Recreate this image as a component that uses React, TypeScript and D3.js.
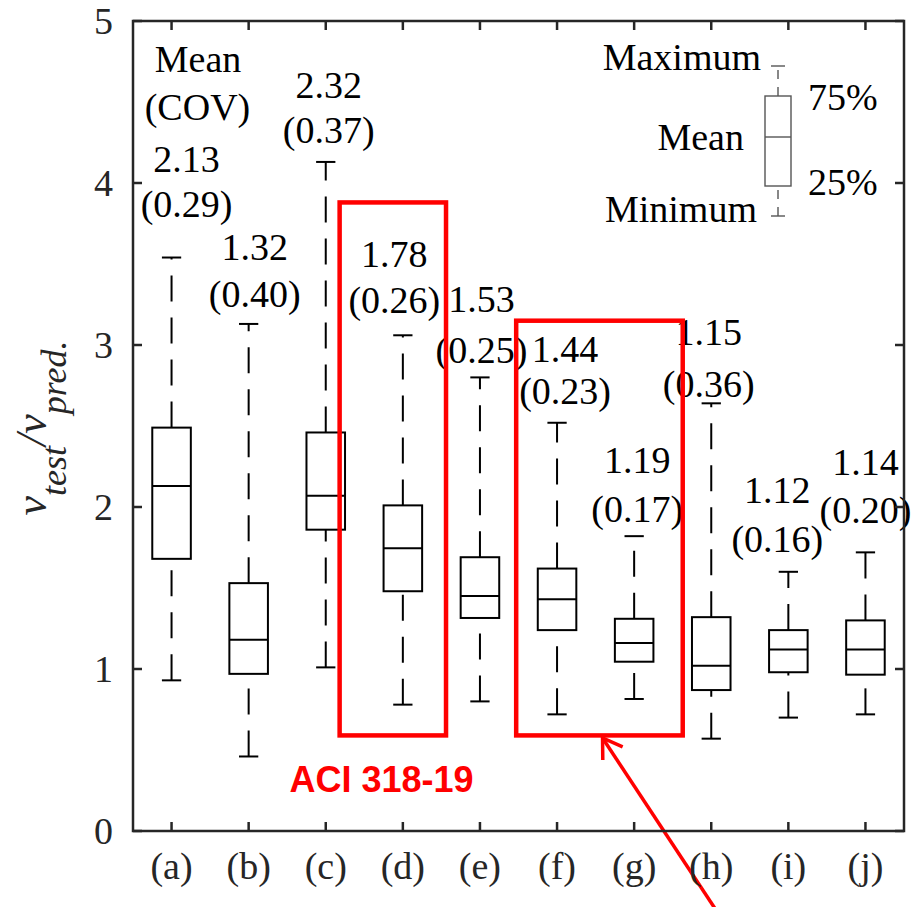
import React from 'react';
import * as d3 from 'd3';

// box plot values (v_test / v_pred.)
const categories = ['(a)', '(b)', '(c)', '(d)', '(e)', '(f)', '(g)', '(h)', '(i)', '(j)'];
const minimums = [0.93, 0.46, 1.01, 0.78, 0.8, 0.72, 0.815, 0.57, 0.7, 0.72];
const q1s = [1.68, 0.97, 1.86, 1.48, 1.315, 1.24, 1.045, 0.87, 0.98, 0.965];
const centres = [2.13, 1.18, 2.07, 1.745, 1.45, 1.43, 1.16, 1.02, 1.12, 1.12];
const q3s = [2.49, 1.53, 2.46, 2.01, 1.69, 1.62, 1.31, 1.32, 1.24, 1.3];
const maximums = [3.54, 3.13, 4.13, 3.06, 2.8, 2.52, 1.82, 2.64, 1.6, 1.72];
const meanLabels = ['2.13', '1.32', '2.32', '1.78', '1.53', '1.44', '1.19', '1.15', '1.12', '1.14'];
const covLabels = ['(0.29)', '(0.40)', '(0.37)', '(0.26)', '(0.25)', '(0.23)', '(0.17)', '(0.36)', '(0.16)', '(0.20)'];
const yTicks = [0, 1, 2, 3, 4, 5];

// label placement: [dx px from box centre, mean baseline y, cov baseline y]
const labelLayout = [
  [15, 172, 217], [6, 260, 307], [3, 98, 143], [-8.5, 267, 313], [1.5, 312, 363],
  [8, 362, 404], [3, 473, 522], [-2.5, 345, 397], [-11, 503, 552], [0, 475, 523],
];

const W = 912;
const H = 907;
const left = 133, right = 904, top = 21, bottom = 831;
const serif = '"Liberation Serif", "Times New Roman", serif';
const axisColor = '#262626';

const App = () => {
  const x = d3.scaleLinear().domain([0.5, 10.5]).range([left, right]);
  const y = d3.scaleLinear().domain([0, 5]).range([bottom, top]);
  const bw = x(1.25) - x(1);
  const cw = x(1.125) - x(1);

  // arrow geometry (data units)
  const tip: [number, number] = [x(6.59), y(0.574)];
  const tail: [number, number] = [x(8.12), y(-0.53)];
  const ang = Math.atan2(tail[1] - tip[1], tail[0] - tip[0]);
  const headLen = 22;
  const arm = (a: number) => [tip[0] + headLen * Math.cos(a), tip[1] + headLen * Math.sin(a)];
  const a1 = arm(ang - Math.PI / 5.5);
  const a2 = arm(ang + Math.PI / 5.5);

  const redBoxes = [
    { x0: 3.18, x1: 4.56, y0: 0.59, y1: 3.88 },
    { x0: 5.47, x1: 7.63, y0: 0.59, y1: 3.15 },
  ];

  return (
    <svg width={W} height={H} style={{ position: 'absolute', left: 0, top: 0, background: '#fff' }}
      fontFamily={serif}>
      <rect width={W} height={H} fill="#fff" />

      {/* boxes */}
      {categories.map((c, i) => {
        const cx = x(i + 1);
        return (
          <g key={c} stroke="#000" strokeWidth={2} fill="none">
            <line x1={cx} x2={cx} y1={y(minimums[i])} y2={y(q1s[i])} strokeDasharray="26 16" />
            <line x1={cx} x2={cx} y1={y(q3s[i])} y2={y(maximums[i])} strokeDasharray="26 16" />
            <line x1={cx - cw} x2={cx + cw} y1={y(minimums[i])} y2={y(minimums[i])} />
            <line x1={cx - cw} x2={cx + cw} y1={y(maximums[i])} y2={y(maximums[i])} />
            <rect x={cx - bw} y={y(q3s[i])} width={bw * 2} height={y(q1s[i]) - y(q3s[i])} />
            <line x1={cx - bw} x2={cx + bw} y1={y(centres[i])} y2={y(centres[i])} />
          </g>
        );
      })}

      {/* mean / cov labels */}
      <g fontSize={38} textAnchor="middle" fill="#000">
        <text x={198} y={72}>Mean</text>
        <text x={197.5} y={120}>(COV)</text>
        {categories.map((c, i) => (
          <g key={c}>
            <text x={x(i + 1) + labelLayout[i][0]} y={labelLayout[i][1]}>{meanLabels[i]}</text>
            <text x={x(i + 1) + labelLayout[i][0]} y={labelLayout[i][2]}>{covLabels[i]}</text>
          </g>
        ))}
      </g>

      {/* red highlight boxes */}
      {redBoxes.map((b, i) => (
        <rect key={i} x={x(b.x0)} y={y(b.y1)} width={x(b.x1) - x(b.x0)} height={y(b.y0) - y(b.y1)}
          fill="none" stroke="#ff0000" strokeWidth={4.5} />
      ))}
      <text x={x(2.53)} y={y(0.24)} fill="#ff0000" fontSize={36} fontWeight="bold"
        fontFamily='"Liberation Sans", Arial, sans-serif'>ACI 318-19</text>
      <g stroke="#ff0000" strokeWidth={3.5} fill="none">
        <line x1={tip[0]} y1={tip[1]} x2={tail[0]} y2={tail[1]} />
        <polyline points={`${a1[0]},${a1[1]} ${tip[0]},${tip[1]} ${a2[0]},${a2[1]}`} />
      </g>

      {/* legend */}
      <g stroke="#555" strokeWidth={1.4} fill="none">
        <line x1={778} x2={778} y1={96} y2={66} strokeDasharray="9 8" />
        <line x1={778} x2={778} y1={216} y2={186} strokeDasharray="9 8" />
        <line x1={771} x2={785} y1={66} y2={66} />
        <line x1={771} x2={785} y1={216} y2={216} />
        <rect x={765} y={96} width={26} height={90} />
        <line x1={765} x2={791} y1={137} y2={137} />
      </g>
      <g fontSize={38} fill="#000">
        <text x={761} y={70} textAnchor="end">Maximum</text>
        <text x={808} y={110}>75%</text>
        <text x={744} y={150} textAnchor="end">Mean</text>
        <text x={808} y={195}>25%</text>
        <text x={757} y={222} textAnchor="end">Minimum</text>
      </g>

      {/* axes frame and ticks */}
      <g stroke={axisColor} strokeWidth={2.5} fill="none">
        <rect x={left} y={top} width={right - left} height={bottom - top} />
        {yTicks.map(t => (
          <g key={t}>
            <line x1={left} x2={left + 9} y1={y(t)} y2={y(t)} />
            <line x1={right} x2={right - 9} y1={y(t)} y2={y(t)} />
          </g>
        ))}
        {categories.map((c, i) => (
          <g key={c}>
            <line x1={x(i + 1)} x2={x(i + 1)} y1={bottom} y2={bottom - 9} />
            <line x1={x(i + 1)} x2={x(i + 1)} y1={top} y2={top + 9} />
          </g>
        ))}
      </g>
      <g fontSize={38} fill={axisColor}>
        {yTicks.map(t => (
          <text key={t} x={113} y={y(t)} dy="0.33em" textAnchor="end">{t}</text>
        ))}
        {categories.map((c, i) => (
          <text key={c} x={x(i + 1)} y={879} textAnchor="middle">{c}</text>
        ))}
      </g>

      {/* y axis title */}
      <text transform={`translate(46, 428) rotate(-90)`} textAnchor="middle" fontStyle="italic" fill={axisColor}>
        <tspan fontSize={44}>v</tspan>
        <tspan fontSize={36} dy={20}>test</tspan>
        <tspan fontSize={44} dy={-20}>/v</tspan>
        <tspan fontSize={36} dy={20}>pred.</tspan>
      </text>
    </svg>
  );
};

export default App;
